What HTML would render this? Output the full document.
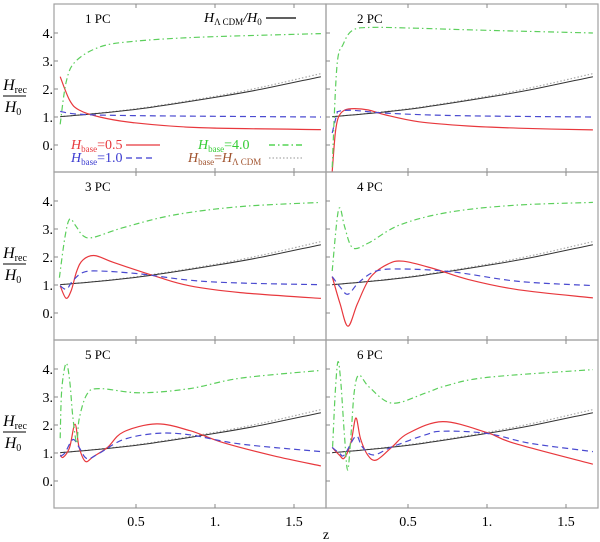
<!DOCTYPE html>
<html><head><meta charset="utf-8"><style>
body{margin:0;background:#fff}
svg{display:block;font-family:"Liberation Serif",serif}
</style></head><body>
<svg id="chart" width="600" height="542" viewBox="0 0 600 542" xmlns="http://www.w3.org/2000/svg"></svg>
<script>
const xTicks=[0.5,1.0,1.5];
const xTickLabels=["0.5","1.","1.5"];
const yTicks=[0,1,2,3,4];
const yTickLabels=["0.","1.","2.","3.","4."];
const panelLabels=["1 PC","2 PC","3 PC","4 PC","5 PC","6 PC"];
const lcdmCurve=[[0.02,1.01],[0.3,1.15],[0.6,1.35],[1.0,1.7],[1.3,2.0],[1.67,2.44]];
const lcdmDotted=[[0.02,1.01],[0.3,1.16],[0.6,1.37],[1.0,1.74],[1.3,2.07],[1.67,2.55]];
const p1Red=[[0.02,2.44],[0.08,1.6],[0.14,1.25],[0.27,1.0],[0.48,0.8],[0.9,0.62],[1.67,0.55]];
const p1Blue=[[0.02,1.2],[0.14,1.1],[0.48,1.05],[1.67,1.0]];
const p1Green=[[0.02,0.74],[0.06,2.3],[0.12,3.0],[0.27,3.5],[0.48,3.7],[0.9,3.85],[1.67,3.98]];
const p2Red=[[0.02,-0.95],[0.04,0.43],[0.06,1.0],[0.1,1.25],[0.16,1.3],[0.25,1.25],[0.36,1.07],[0.57,0.83],[0.88,0.68],[1.2,0.6],[1.67,0.54]];
const p2Blue=[[0.02,0.43],[0.05,1.1],[0.06,1.2],[0.15,1.24],[0.36,1.14],[0.8,1.05],[1.67,1.0]];
const p2Green=[[0.02,-0.8],[0.05,2.8],[0.09,3.6],[0.15,4.1],[0.27,4.2],[0.55,4.17],[0.97,4.1],[1.67,4.0]];
const p3Red=[[0.02,0.97],[0.057,0.53],[0.09,0.8],[0.125,1.5],[0.165,1.9],[0.24,2.05],[0.36,1.8],[0.63,1.3],[0.84,0.97],[1.16,0.73],[1.67,0.52]];
const p3Blue=[[0.02,0.97],[0.06,0.85],[0.1,1.15],[0.165,1.45],[0.27,1.5],[0.52,1.4],[0.84,1.17],[1.16,1.07],[1.67,1.01]];
const p3Green=[[0.015,1.26],[0.05,2.7],[0.08,3.35],[0.12,3.1],[0.165,2.76],[0.23,2.7],[0.42,3.05],[0.74,3.5],[1.16,3.8],[1.67,3.95]];
const p4Red=[[0.02,1.3],[0.07,0.33],[0.12,-0.47],[0.18,0.33],[0.26,1.26],[0.37,1.74],[0.47,1.85],[0.67,1.57],[0.88,1.2],[1.2,0.83],[1.67,0.54]];
const p4Blue=[[0.02,1.3],[0.07,0.93],[0.12,0.67],[0.19,1.1],[0.3,1.5],[0.47,1.57],[0.78,1.47],[1.2,1.13],[1.67,0.98]];
const p4Green=[[0.02,1.5],[0.05,3.3],[0.07,3.75],[0.1,3.06],[0.15,2.33],[0.25,2.5],[0.45,3.15],[0.76,3.6],[1.18,3.85],[1.67,3.95]];
const p5Red=[[0.02,0.93],[0.04,0.85],[0.08,1.2],[0.114,2.03],[0.14,1.2],[0.18,0.7],[0.23,0.87],[0.32,1.2],[0.42,1.75],[0.63,2.04],[0.84,1.8],[1.05,1.37],[1.37,0.9],[1.67,0.54]];
const p5Blue=[[0.02,0.88],[0.05,1.0],[0.1,1.48],[0.14,1.2],[0.19,0.8],[0.27,1.0],[0.42,1.48],[0.63,1.7],[0.84,1.65],[1.16,1.32],[1.67,1.05]];
const p5Green=[[0.02,1.53],[0.03,3.25],[0.057,4.2],[0.08,3.6],[0.1,2.3],[0.125,1.35],[0.14,2.2],[0.19,3.1],[0.27,3.3],[0.525,3.15],[0.84,3.3],[1.16,3.67],[1.67,3.95]];
const p6Red=[[0.02,1.2],[0.065,0.93],[0.097,0.82],[0.14,1.4],[0.17,2.25],[0.2,1.5],[0.245,0.93],[0.3,0.75],[0.4,1.22],[0.5,1.7],[0.72,2.12],[1.0,1.73],[1.17,1.35],[1.67,0.6]];
const p6Blue=[[0.02,1.2],[0.065,1.0],[0.097,0.93],[0.17,1.6],[0.21,1.22],[0.28,0.93],[0.4,1.22],[0.61,1.65],[0.72,1.78],[1.0,1.7],[1.27,1.35],[1.67,1.05]];
const p6Green=[[0.023,1.22],[0.04,3.2],[0.057,4.26],[0.075,3.5],[0.097,1.7],[0.118,0.39],[0.14,1.7],[0.16,3.2],[0.19,3.78],[0.255,3.35],[0.4,2.78],[0.61,3.14],[0.74,3.4],[1.0,3.7],[1.67,3.98]];
const panelSeries=[[p1Red,p1Blue,p1Green],[p2Red,p2Blue,p2Green],[p3Red,p3Blue,p3Green],[p4Red,p4Blue,p4Green],[p5Red,p5Blue,p5Green],[p6Red,p6Blue,p6Green]];

const NS="http://www.w3.org/2000/svg";
const svg=document.getElementById('chart');
function mk(tag,attrs,parent){const e=document.createElementNS(NS,tag);for(const k in attrs)e.setAttribute(k,attrs[k]);(parent||svg).appendChild(e);return e;}
const colLeft=[54,326],rowTop=[4,172,340],PW=272,PH=168,XS=158,YS=28;
function pathD(pts,xs,ys){
  const P=pts.map(p=>[xs(p[0]),ys(p[1])]);
  let d="M"+P[0][0].toFixed(1)+","+P[0][1].toFixed(1);
  for(let i=0;i<P.length-1;i++){
    const p0=P[i-1]||P[i],p1=P[i],p2=P[i+1],p3=P[i+2]||P[i+1];
    const c1=[p1[0]+(p2[0]-p0[0])/6,p1[1]+(p2[1]-p0[1])/6];
    const c2=[p2[0]-(p3[0]-p1[0])/6,p2[1]-(p3[1]-p1[1])/6];
    d+="C"+c1.map(v=>v.toFixed(1))+" "+c2.map(v=>v.toFixed(1))+" "+p2.map(v=>v.toFixed(1));
  }
  return d;
}
const defs=mk('defs',{});
const styles=[{stroke:"#e8383d",dash:"",name:"red-h-base-0.5"},{stroke:"#4a4ad0",dash:"6,4",name:"blue-h-base-1.0"},{stroke:"#5ccf5c",dash:"6,3,1.5,3",name:"green-h-base-4.0"}];
for(let i=0;i<6;i++){
  const c=i%2,r=Math.floor(i/2);
  const L=colLeft[c],T=rowTop[r];
  const xs=z=>L+3+z*XS, ys=h=>T+141-h*YS;
  const g=mk('g',{});
  
  
  const cp=mk('clipPath',{id:'cp'+i},defs);mk('rect',{x:L,y:T,width:PW,height:PH},cp);
  const fr=mk('rect',{x:L,y:T,width:PW,height:PH,fill:"none",stroke:"#a0a0a0","stroke-width":1.2},g);
  
  yTicks.forEach(t=>{mk('line',{x1:L,x2:L+4,y1:ys(t),y2:ys(t),stroke:"#888","stroke-width":1},g);});
  xTicks.forEach(t=>{mk('line',{x1:xs(t),x2:xs(t),y1:T+PH,y2:T+PH-4,stroke:"#888","stroke-width":1},g);mk('line',{x1:xs(t),x2:xs(t),y1:T,y2:T+4,stroke:"#888","stroke-width":1},g);});
  if(c===0){yTicks.forEach((t,k)=>{const tx=mk('text',{x:L-1,y:ys(t)+5,"text-anchor":"end","font-size":14},g);tx.textContent=yTickLabels[k];
    });}
  if(r===2){xTicks.forEach((t,k)=>{const tx=mk('text',{x:xs(t),y:526,"text-anchor":"middle","font-size":14},g);tx.textContent=xTickLabels[k];
    });}
  const cg=mk('g',{"clip-path":"url(#cp"+i+")"},g);
  const dl=mk('path',{d:pathD(lcdmDotted,xs,ys),fill:"none",stroke:"#aaa","stroke-width":1.2,"stroke-dasharray":"1.5,2"},cg);
  
  const bl=mk('path',{d:pathD(lcdmCurve,xs,ys),fill:"none",stroke:"#333","stroke-width":1},cg);
  
  panelSeries[i].forEach((s,k)=>{const p=mk('path',{d:pathD(s,xs,ys),fill:"none",stroke:styles[k].stroke,"stroke-width":1.2,"stroke-dasharray":styles[k].dash},cg);
    });
  const lb=mk('text',{x:L+31,y:T+19,"font-size":13},g);lb.textContent=panelLabels[i];
  
  if(c===0){
    const yl=mk('g',{},g);
    const cy=T+92;
    const t1=mk('text',{x:15,y:cy-6,"text-anchor":"middle","font-size":16,"font-style":"italic"},yl);
    t1.innerHTML='H<tspan font-size="10" font-style="normal" dy="3">rec</tspan>';
    mk('line',{x1:3,x2:26,y1:cy,y2:cy,stroke:"#000","stroke-width":1},yl);
    const t2=mk('text',{x:13,y:cy+16,"text-anchor":"middle","font-size":16,"font-style":"italic"},yl);
    t2.innerHTML='H<tspan font-size="10" font-style="normal" dy="3">0</tspan>';
  }
}
// legend
function legendItem(x,y,color,html,lx,dash,name,w){
  const g=mk('g',{});
  const t=mk('text',{x:x,y:y,fill:color,"font-size":14},g);t.innerHTML=html;
  mk('line',{x1:lx,x2:lx+(w||34),y1:y-4,y2:y-4,stroke:color==="#a0522d"?"#aaa":color,"stroke-width":1.2,"stroke-dasharray":dash},g);
}
legendItem(71,149,"#e8383d",'<tspan font-style="italic">H</tspan><tspan font-size="9" dy="3">base</tspan><tspan dy="-3">=0.5</tspan>',126,"","legend-red");
legendItem(71,162,"#3a3ad0",'<tspan font-style="italic">H</tspan><tspan font-size="9" dy="3">base</tspan><tspan dy="-3">=1.0</tspan>',126,"6,4","legend-blue",30);
legendItem(198,149,"#3c3",'<tspan font-style="italic">H</tspan><tspan font-size="9" dy="3">base</tspan><tspan dy="-3">=4.0</tspan>',269,"6,3,1.5,3","legend-green");
legendItem(188,162,"#a0522d",'<tspan font-style="italic">H</tspan><tspan font-size="9" dy="3">base</tspan><tspan dy="-3">=</tspan><tspan font-style="italic">H</tspan><tspan font-size="9" dy="3">Λ CDM</tspan>',269,"1.5,2","legend-lcdm-dotted");
legendItem(204,22,"#000",'<tspan font-style="italic">H</tspan><tspan font-size="9" dy="3">Λ CDM</tspan><tspan dy="-3" font-style="italic">/H</tspan><tspan font-size="9" dy="3">0</tspan>',266,"","legend-lcdm",30);
const zl=mk('text',{x:326,y:539,"text-anchor":"middle","font-size":14});zl.textContent="z";

</script>
</body></html>
